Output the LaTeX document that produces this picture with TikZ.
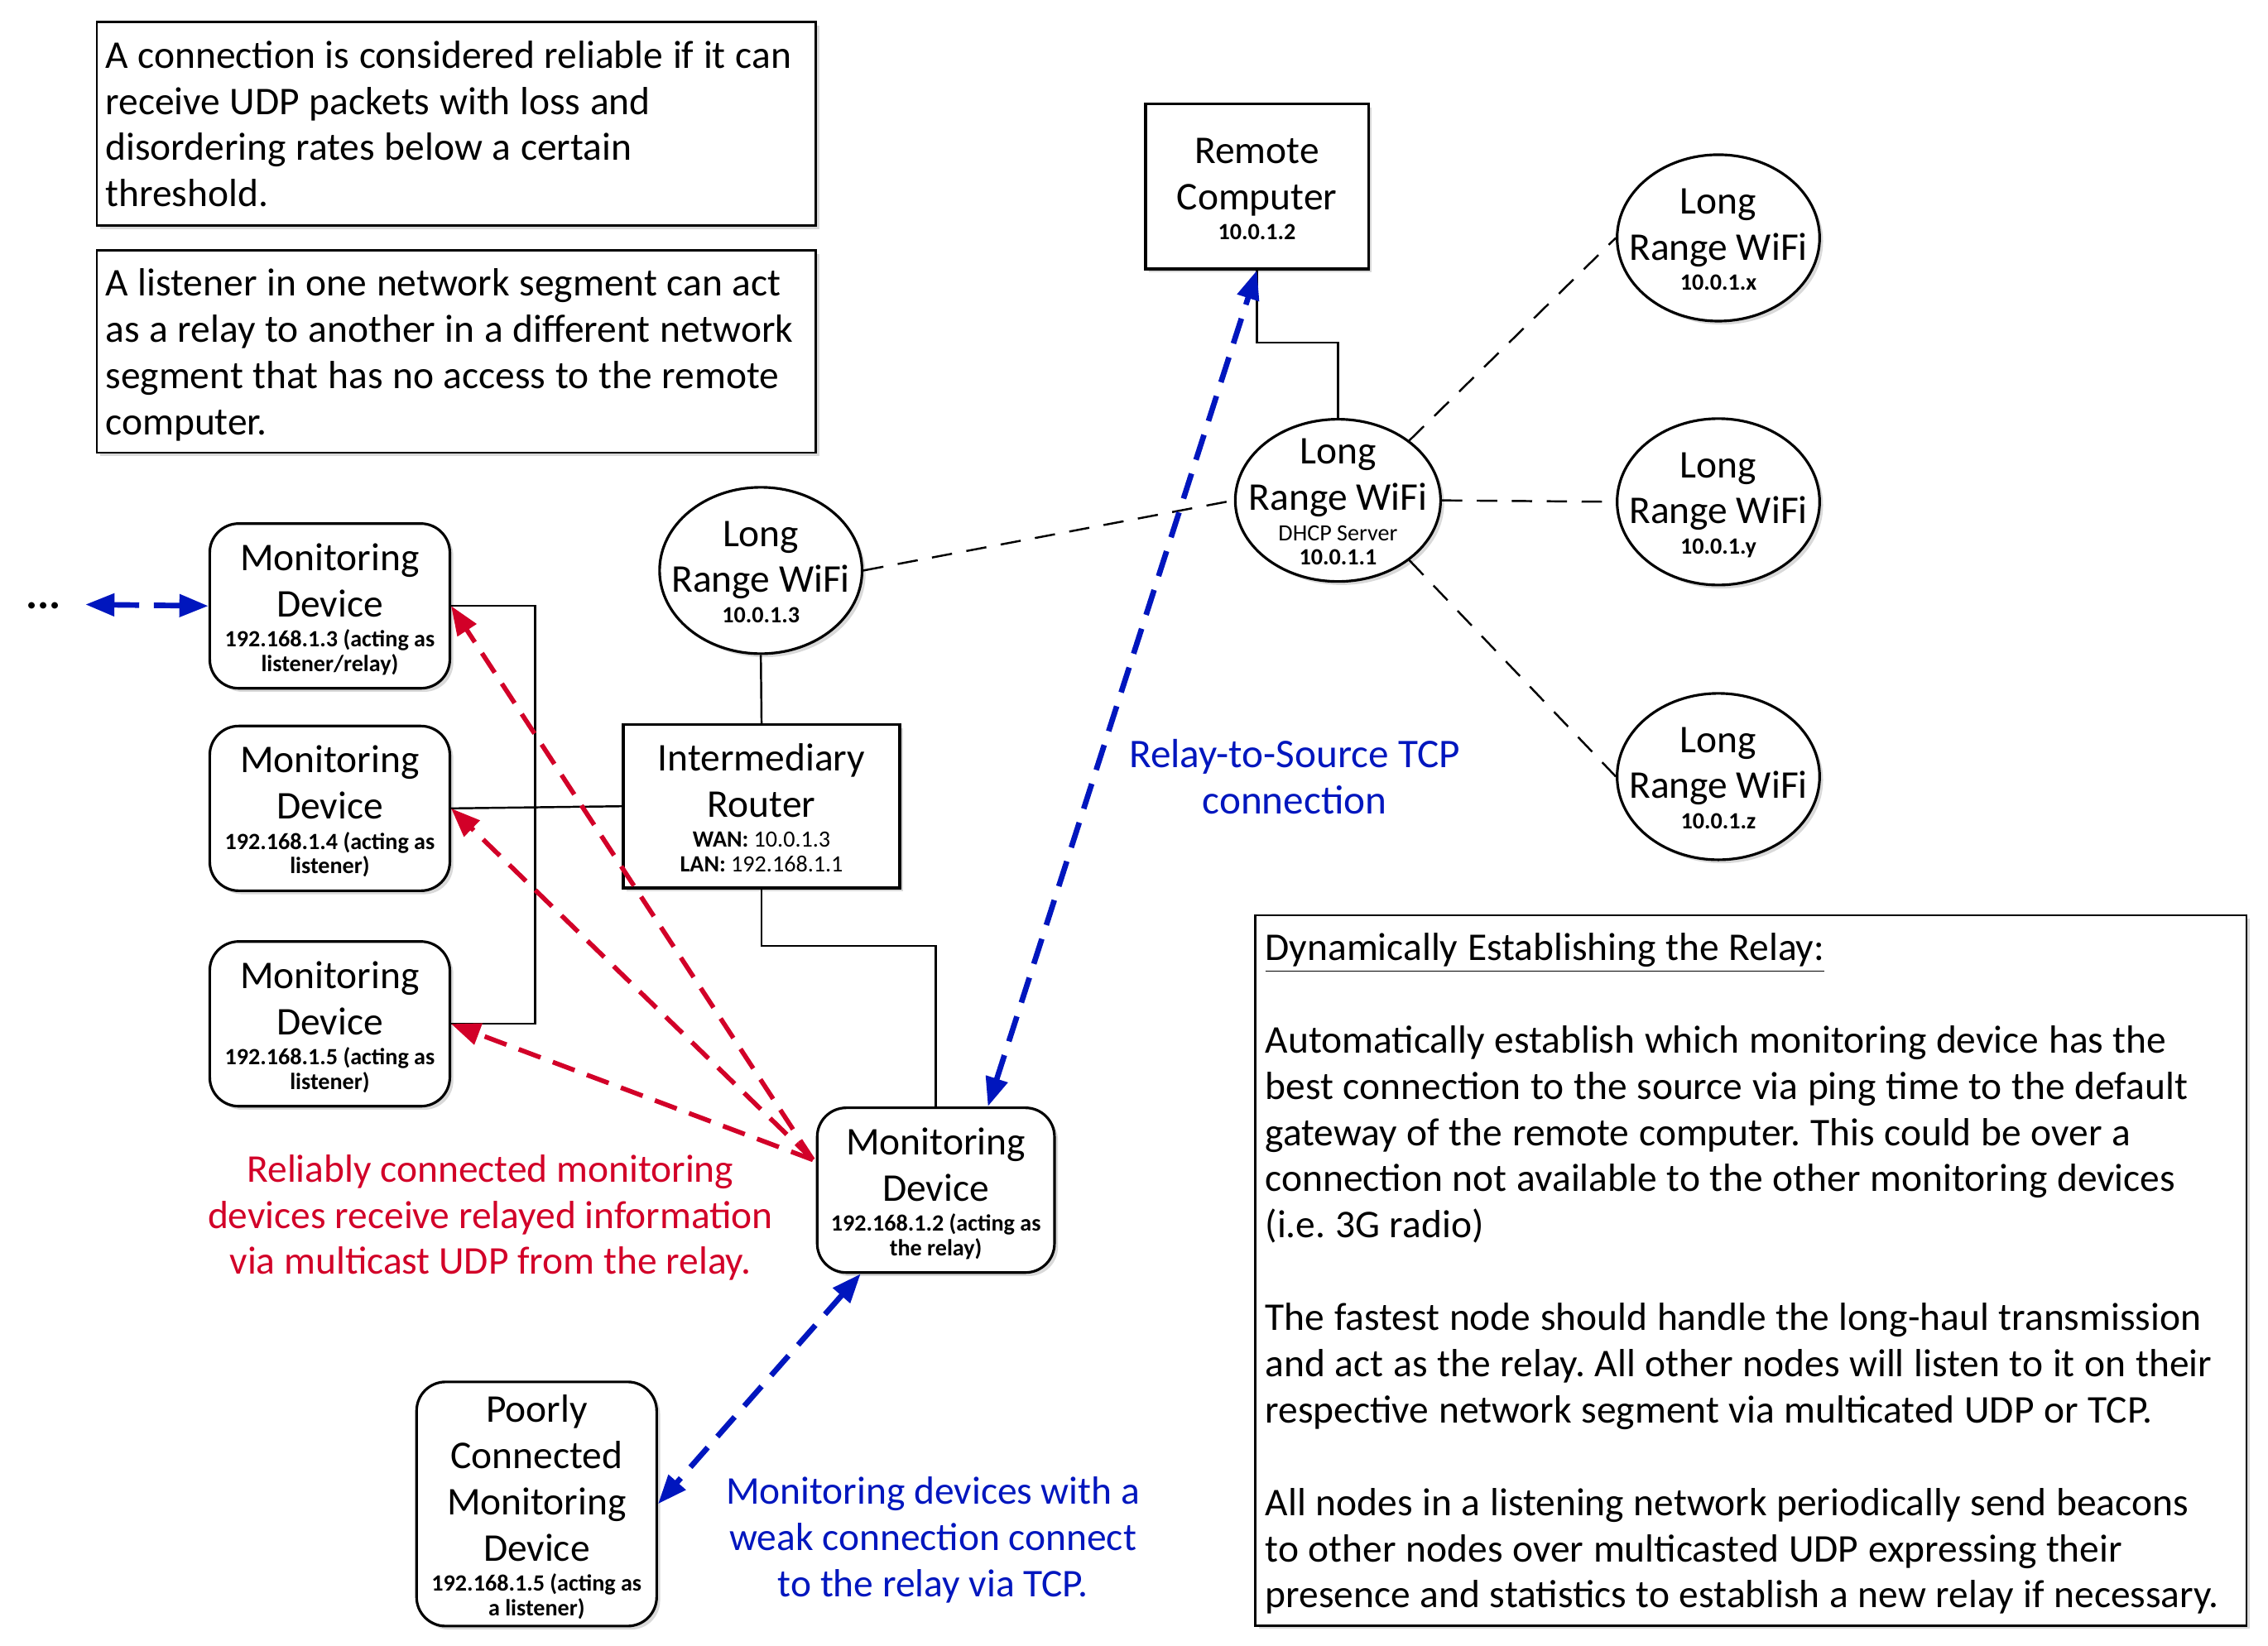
\documentclass[tikz,border=0pt]{standalone}
\usepackage{fontspec}
\setmainfont{Carlito}
\usetikzlibrary{shapes.geometric,arrows.meta,shadows,calc}
\definecolor{myred}{RGB}{210,0,40}
\definecolor{myblue}{RGB}{0,22,190}
\frenchspacing
\newcommand{\mainfnt}{\fontsize{13.5}{15.9}\selectfont}
\newcommand{\lblfnt}{\fontsize{13.5}{15.9}\selectfont}
\newcommand{\lblbigfnt}{\fontsize{14}{15.9}\selectfont}
\newcommand{\smallfnt}{\fontsize{8}{8.4}\selectfont\bfseries}
\newcommand{\sA}{\\[-5.5pt]\smallfnt}
\newcommand{\sB}{\\[-7.5pt]\smallfnt}
\newcommand{\ntxt}[1]{{\mainfnt\begin{tabular}{@{}c@{}}\rule{0pt}{15pt}#1\end{tabular}}}
\newcommand{\etxt}[1]{\makebox[1cm]{\raisebox{-3.3pt}{\ntxt{#1}}}}
\newcommand{\ltxt}[1]{{\mainfnt\begin{tabular}{@{}l@{}}\rule{0pt}{14.2pt}#1\end{tabular}}}
\begin{document}
\begin{tikzpicture}[x=0.017474cm,y=-0.017474cm,
  shad/.style={drop shadow={shadow xshift=1.2pt,shadow yshift=-1.2pt,opacity=0.3}},
  tbox/.style={draw,line width=0.8pt,fill=white,shad,align=left,inner xsep=0.105cm,inner ysep=0pt},
  mdev/.style={draw,rounded corners=0.35cm,line width=0.9pt,fill=white,shad,minimum width=2.9cm,minimum height=1.99cm,inner sep=0pt},
  sqbox/.style={draw,line width=0.9pt,fill=white,shad,inner sep=0pt},
  wifi/.style={draw,ellipse,line width=0.9pt,fill=white,shad,minimum width=2.446cm,minimum height=2.01cm,inner sep=0pt,text height=0pt,text depth=0pt},
  conn/.style={line width=0.7pt},
  wless/.style={line width=0.7pt,dash pattern=on 7pt off 5pt},
  redarr/.style={myred,line width=1.6pt,dash pattern=on 8pt off 4.5pt,-{Triangle[length=10pt,width=7.5pt]}},
  bluearr/.style={myblue,line width=1.9pt,dash pattern=on 9pt off 5pt,{Triangle[length=10pt,width=7.5pt]}-{Triangle[length=10pt,width=7.5pt]}},
  lbl/.style={align=center,font=\lblfnt}]
\useasboundingbox (0,0) rectangle (1568,1138);

% text boxes
\node[tbox,minimum width=8.685cm,text width=8.475cm,minimum height=2.46cm] (t1) at (315.5,85.5)
 {\ltxt{A connection is considered reliable if it can\\receive UDP packets with loss and\\disordering rates below a certain\\threshold.}};
\node[tbox,minimum width=8.685cm,text width=8.475cm,minimum height=2.446cm] (t2) at (315.5,243)
 {\ltxt{A listener in one network segment can act\\as a relay to another in a different network\\segment that has no access to the remote\\computer.}};
\node[tbox,minimum width=11.97cm,text width=11.73cm,minimum height=8.58cm] (t3) at (1210.5,878.5)
 {\ltxt{\underline{Dynamically Establishing the Relay:}\\[15.9pt]
 Automatically establish which monitoring device has the\\
 best connection to the source via ping time to the default\\
 gateway of the remote computer. This could be over a\\
 connection not available to the other monitoring devices\\
 (i.e. 3G radio)\\[15.9pt]
 The fastest node should handle the long-haul transmission\\
 and act as the relay. All other nodes will listen to it on their\\
 respective network segment via multicated UDP or TCP.\\[15.9pt]
 All nodes in a listening network periodically send beacons\\
 to other nodes over multicasted UDP expressing their\\
 presence and statistics to establish a new relay if necessary.}};

% network nodes
\node[sqbox,minimum width=2.69cm,minimum height=1.99cm] (remote) at (869,129)
 {\ntxt{Remote\\Computer\sA 10.0.1.2}};
\node[sqbox,minimum width=3.34cm,minimum height=1.975cm] (router) at (526.5,557.5)
 {\ntxt{Intermediary\\Router\sA WAN: {\mdseries 10.0.1.3}\sB LAN: {\mdseries 192.168.1.1}}};
\node[wifi] (wifi3) at (526,394.5) {\etxt{Long\\Range WiFi\sA 10.0.1.3}};
\node[wifi,minimum width=2.48cm,minimum height=1.96cm] (dhcp) at (925,346)
 {\etxt{Long\\Range WiFi\sA\mdseries DHCP Server\sB 10.0.1.1}};
\node[wifi] (wx) at (1188,164.5) {\etxt{Long\\Range WiFi\sA 10.0.1.x}};
\node[wifi] (wy) at (1188,347) {\etxt{Long\\Range WiFi\sA 10.0.1.y}};
\node[wifi] (wz) at (1188,537) {\etxt{Long\\Range WiFi\sA 10.0.1.z}};

\node[mdev] (md1) at (228,419) {\ntxt{Monitoring\\Device\sA 192.168.1.3 (acting as\sB listener/relay)}};
\node[mdev] (md2) at (228,559) {\ntxt{Monitoring\\Device\sA 192.168.1.4 (acting as\sB listener)}};
\node[mdev] (md3) at (228,708) {\ntxt{Monitoring\\Device\sA 192.168.1.5 (acting as\sB listener)}};
\node[mdev,minimum width=2.866cm] (relay) at (647,823) {\ntxt{Monitoring\\Device\sA 192.168.1.2 (acting as\sB the relay)}};
\node[mdev,minimum height=2.95cm,inner ysep=-3pt] (poor) at (371,1040) {\ntxt{Poorly\\Connected\\Monitoring\\Device\sA 192.168.1.5 (acting as\sB a listener)}};

\node[font=\fontsize{15}{15}\selectfont\bfseries,inner sep=0pt] (dots) at (30,419) {...};

% helper coordinates
\coordinate (busx) at (370,0);
\coordinate (rj) at (0,654);
\coordinate (rc) at (0,237);
\coordinate (rs) at (562,802);
\coordinate (far) at (59,418);

% wired connectors
\draw[conn] (md1.east) -- (md1.east -| busx) -- (md3.east -| busx) -- (md3.east);
\draw[conn] (md2.east) -- (router.west);
\draw[conn] (wifi3.south) -- (router.north);
\draw[conn] (router.south) -- (router.south |- rj) -| (relay.north);
\draw[conn] (remote.south) -- (remote.south |- rc) -| (dhcp.north);

% wireless links
\draw[wless] (wifi3.east) -- (dhcp.west);
\draw[wless] (dhcp.40) -- (wx.west);
\draw[wless] (dhcp.east) -- (wy.west);
\draw[wless] (dhcp.-40) -- (wz.west);

% arrows
\draw[redarr] (rs) -- (md1.east);
\draw[redarr] (rs) -- (md2.east);
\draw[redarr] (rs) -- (md3.east);
\draw[bluearr] ($(relay.north)+(36,0)$) -- (remote.south);
\draw[bluearr] ($(relay.south)+(-52,0)$) -- (poor.east);
\draw[bluearr] (far) -- (md1.west);

% labels
\node[lbl,myblue,font=\lblbigfnt] (l1) at (895,537) {Relay-to-Source TCP\\connection};
\node[lbl,myred] (l2) at (339,842) {Reliably connected monitoring\\devices receive relayed information\\via multicast UDP from the relay.};
\node[lbl,myblue] (l3) at (645,1065) {Monitoring devices with a\\weak connection connect\\to the relay via TCP.};
\end{tikzpicture}
\end{document}
